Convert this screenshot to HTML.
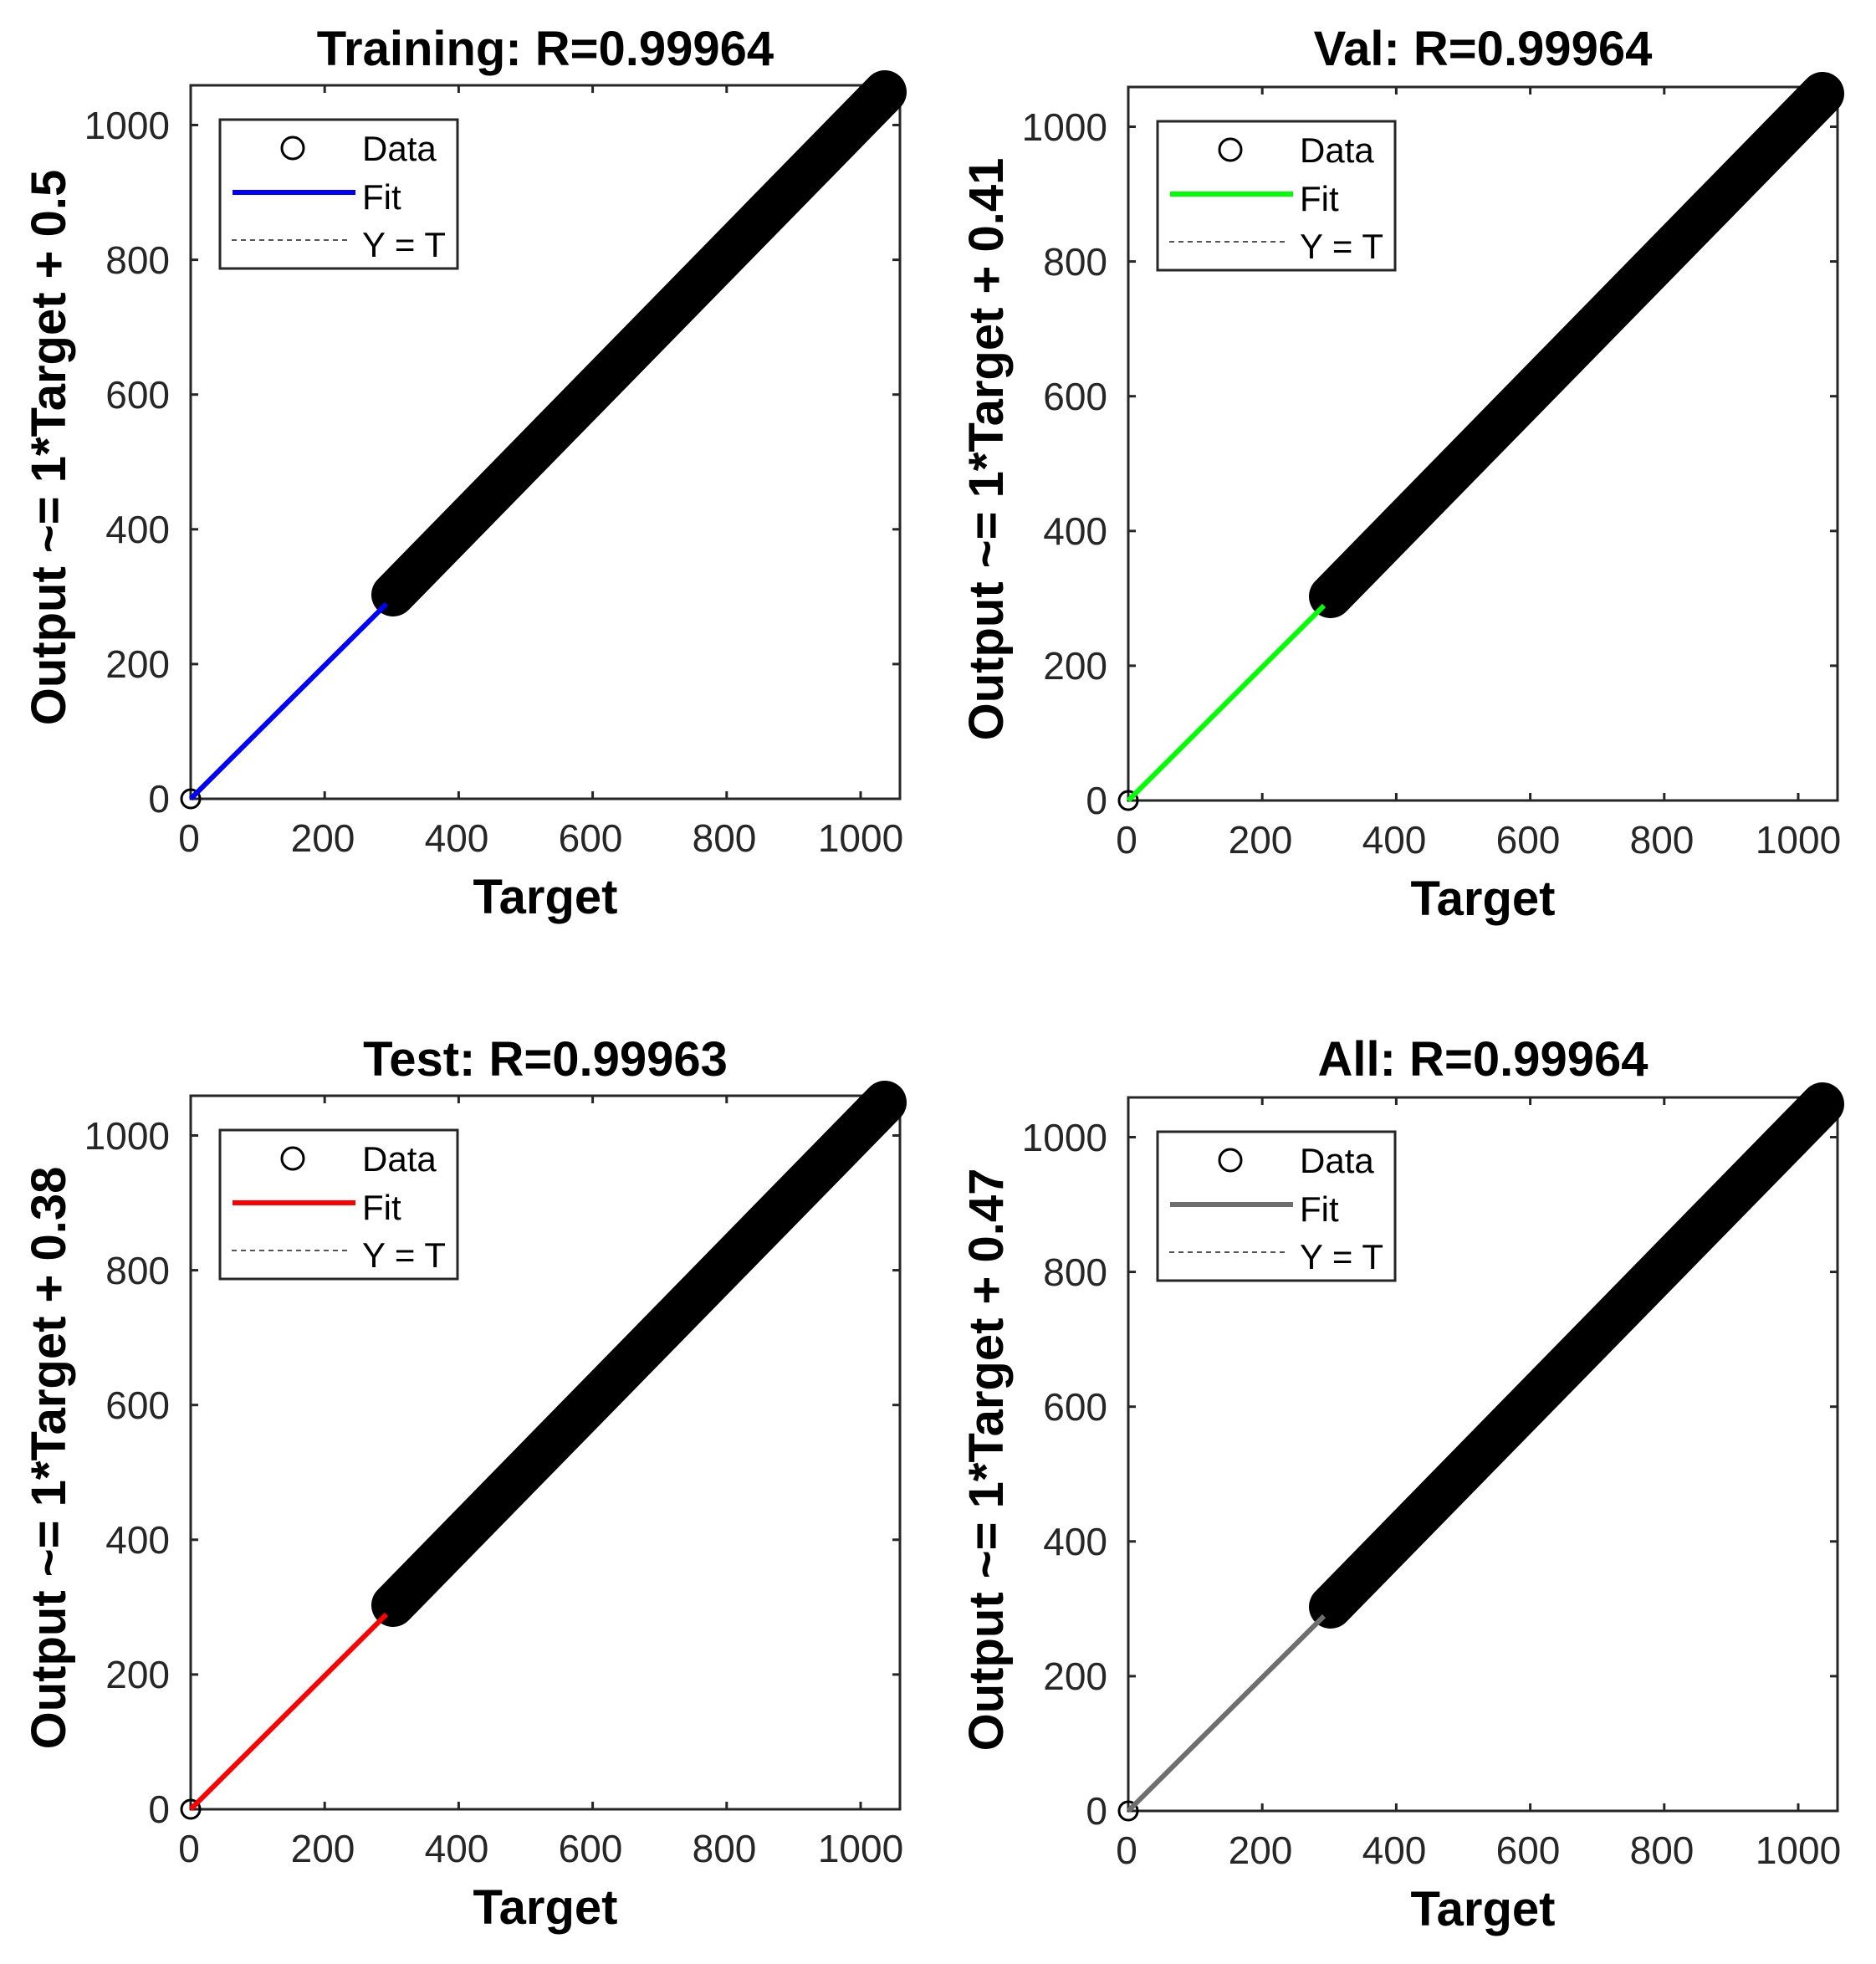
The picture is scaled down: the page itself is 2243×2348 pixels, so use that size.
<!DOCTYPE html>
<html><head><meta charset="utf-8"><style>
html,body{margin:0;padding:0;background:#fff;}
svg{display:block;}
text{font-family:"Liberation Sans",Arial,sans-serif;}
.tk{font-size:46px;fill:#262626;}
.tx{text-anchor:middle;}
.ty{text-anchor:end;}
.bold{font-weight:bold;font-size:58px;fill:#000;}
.lg{font-size:42px;fill:#000;}
</style></head><body>
<svg width="2243" height="2348" viewBox="0 0 2243 2348" xmlns="http://www.w3.org/2000/svg">
<defs>
<g id="axes">
  <rect x="228" y="102" width="848" height="853" fill="#fff" stroke="#262626" stroke-width="3"/>
  <g stroke="#262626" stroke-width="3">
    <line x1="388.2" y1="955" x2="388.2" y2="946"/><line x1="548.4" y1="955" x2="548.4" y2="946"/>
    <line x1="708.6" y1="955" x2="708.6" y2="946"/><line x1="868.8" y1="955" x2="868.8" y2="946"/>
    <line x1="1029" y1="955" x2="1029" y2="946"/>
    <line x1="388.2" y1="102" x2="388.2" y2="111"/><line x1="548.4" y1="102" x2="548.4" y2="111"/>
    <line x1="708.6" y1="102" x2="708.6" y2="111"/><line x1="868.8" y1="102" x2="868.8" y2="111"/>
    <line x1="1029" y1="102" x2="1029" y2="111"/>
    <line x1="228" y1="793.9" x2="237" y2="793.9"/><line x1="228" y1="632.8" x2="237" y2="632.8"/>
    <line x1="228" y1="471.7" x2="237" y2="471.7"/><line x1="228" y1="310.6" x2="237" y2="310.6"/>
    <line x1="228" y1="149.5" x2="237" y2="149.5"/>
    <line x1="1076" y1="793.9" x2="1067" y2="793.9"/><line x1="1076" y1="632.8" x2="1067" y2="632.8"/>
    <line x1="1076" y1="471.7" x2="1067" y2="471.7"/><line x1="1076" y1="310.6" x2="1067" y2="310.6"/>
    <line x1="1076" y1="149.5" x2="1067" y2="149.5"/>
  </g>
  <g class="tk tx">
    <text x="226" y="1018">0</text><text x="386" y="1018">200</text><text x="546" y="1018">400</text>
    <text x="706" y="1018">600</text><text x="866" y="1018">800</text><text x="1029" y="1018">1000</text>
  </g>
  <g class="tk ty">
    <text x="203" y="971">0</text><text x="203" y="810">200</text><text x="203" y="649">400</text>
    <text x="203" y="488">600</text><text x="203" y="327">800</text><text x="203" y="166">1000</text>
  </g>
  <text class="bold" x="652" y="1092" text-anchor="middle">Target</text>
  <line x1="228" y1="955" x2="1076" y2="102" stroke="#444" stroke-width="2" stroke-dasharray="6,6"/>
  <line x1="470" y1="711" x2="1058" y2="110" stroke="#000" stroke-width="52" stroke-linecap="round"/>
  <circle cx="228" cy="955" r="11" fill="none" stroke="#000" stroke-width="3"/>
  <rect x="263" y="143" width="284" height="178" fill="#fff" stroke="#262626" stroke-width="3"/>
  <circle cx="350" cy="177" r="13" fill="none" stroke="#000" stroke-width="3"/>
  <text class="lg" x="433" y="192">Data</text>
  <text class="lg" x="433" y="250">Fit</text>
  <line x1="277" y1="287" x2="415" y2="287" stroke="#555" stroke-width="2" stroke-dasharray="6,5"/>
  <text class="lg" x="433" y="307">Y = T</text>
</g>
</defs>

<g>
  <use href="#axes"/>
  <line x1="228" y1="955" x2="462" y2="722" stroke="#0000ff" stroke-width="6"/>
  <line x1="278" y1="230" x2="425" y2="230" stroke="#0000ff" stroke-width="6"/>
  <text class="bold" x="652" y="78" text-anchor="middle">Training: R=0.99964</text>
  <text class="bold" transform="translate(78,535) rotate(-90)" text-anchor="middle">Output ~= 1*Target + 0.5</text>
</g>
<g transform="translate(1121,2)">
  <use href="#axes"/>
  <line x1="228" y1="955" x2="462" y2="722" stroke="#00ff00" stroke-width="6"/>
  <line x1="278" y1="230" x2="425" y2="230" stroke="#00ff00" stroke-width="6"/>
  <text class="bold" x="652" y="76" text-anchor="middle">Val: R=0.99964</text>
  <text class="bold" transform="translate(78,535) rotate(-90)" text-anchor="middle">Output ~= 1*Target + 0.41</text>
</g>
<g transform="translate(0,1208)">
  <use href="#axes"/>
  <line x1="228" y1="955" x2="462" y2="722" stroke="#ff0000" stroke-width="6"/>
  <line x1="278" y1="230" x2="425" y2="230" stroke="#ff0000" stroke-width="6"/>
  <text class="bold" x="652" y="78" text-anchor="middle">Test: R=0.99963</text>
  <text class="bold" transform="translate(78,535) rotate(-90)" text-anchor="middle">Output ~= 1*Target + 0.38</text>
</g>
<g transform="translate(1121,1210)">
  <use href="#axes"/>
  <line x1="228" y1="955" x2="462" y2="722" stroke="#6e6e6e" stroke-width="6"/>
  <line x1="278" y1="230" x2="425" y2="230" stroke="#6e6e6e" stroke-width="6"/>
  <text class="bold" x="652" y="76" text-anchor="middle">All: R=0.99964</text>
  <text class="bold" transform="translate(78,535) rotate(-90)" text-anchor="middle">Output ~= 1*Target + 0.47</text>
</g>
</svg>
</body></html>
